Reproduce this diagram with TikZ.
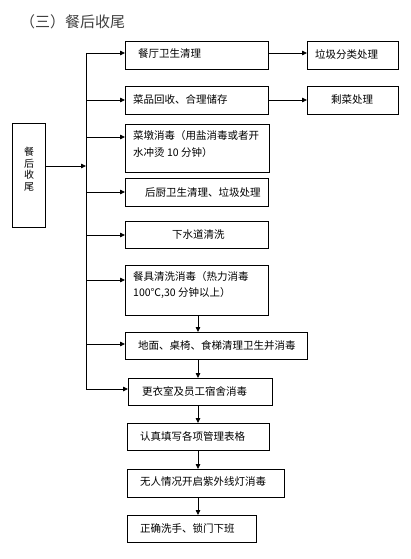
\documentclass[tikz,border=0pt]{standalone}
\usepackage{fontspec}
\setmainfont{Noto Sans CJK SC}
\usetikzlibrary{arrows.meta}
\begin{document}
\begin{tikzpicture}[x=1pt,y=-1pt,
  box/.style={draw=black, line width=0.8pt, inner sep=0pt, anchor=north west},
  txt/.style={anchor=west, inner sep=0pt, font=\fontsize{10.5}{16}\selectfont},
  arr/.style={line width=0.8pt, -{Triangle[length=5pt,width=4.5pt]}},
  ln/.style={line width=0.8pt}]
\useasboundingbox (0,0) rectangle (411,559);
\node[anchor=west, inner sep=0pt, text=black!75, font=\fontsize{15}{18}\selectfont] (title) at (20,22) {（三）餐后收尾};
% left box
\node[box, minimum width=33pt, minimum height=104pt] (L) at (12,123) {};
\node[inner sep=0pt, align=center, font=\fontsize{10}{11.5}\selectfont] (Lt) at (29,169) {餐\\后\\收\\尾};
% boxes
\node[box, minimum width=143pt, minimum height=28pt] (b1) at (125,41) {};
\node[txt] (t1) at (138,54) {餐厅卫生清理};
\node[box, minimum width=91pt, minimum height=28pt] (b2) at (307,41) {};
\node[txt] (t2) at (315,54) {垃圾分类处理};
\node[box, minimum width=143pt, minimum height=28pt] (b3) at (125,86) {};
\node[txt] (t3) at (133,100) {菜品回收、合理储存};
\node[box, minimum width=91pt, minimum height=28pt] (b4) at (307,86) {};
\node[txt] (t4) at (331,100) {剩菜处理};
\node[box, minimum width=144pt, minimum height=48pt] (b5) at (125,124) {};
\node[txt] (t5a) at (133,136) {菜墩消毒（用盐消毒或者开};
\node[txt] (t5b) at (133,153) {水冲烫 10 分钟）};
\node[box, minimum width=143pt, minimum height=28pt] (b6) at (125,178) {};
\node[txt] (t6) at (145,192) {后厨卫生清理、垃圾处理};
\node[box, minimum width=143pt, minimum height=27pt] (b7) at (125,221) {};
\node[txt] (t7) at (172,234.5) {下水道清洗};
\node[box, minimum width=143pt, minimum height=50pt] (b8) at (125,265) {};
\node[txt] (t8a) at (133,277) {餐具清洗消毒（热力消毒};
\node[txt] (t8b) at (133,293) {100℃,30 分钟以上）};
\node[box, minimum width=182pt, minimum height=27pt] (b9) at (125,332) {};
\node[txt] (t9) at (138,345.5) {地面、桌椅、食梯清理卫生并消毒};
\node[box, minimum width=144pt, minimum height=27pt] (b10) at (128,378) {};
\node[txt] (t10) at (142,391) {更衣室及员工宿舍消毒};
\node[box, minimum width=142pt, minimum height=27pt] (b11) at (127,423) {};
\node[txt] (t11) at (140,436) {认真填写各项管理表格};
\node[box, minimum width=157pt, minimum height=28pt] (b12) at (127,469) {};
\node[txt] (t12) at (140,482) {无人情况开启紫外线灯消毒};
\node[box, minimum width=129pt, minimum height=27pt] (b13) at (127,515) {};
\node[txt] (t13) at (140,528) {正确洗手、锁门下班};
% trunk
\coordinate (top) at (86,53);
\coordinate (bot) at (86,389);
\coordinate (mid) at (86,166);
\draw[ln] (top) -- (bot);
\draw[arr] (L.east |- mid) -- (mid);
\draw[arr] (top) -- (b1.west |- top);
\draw[arr] (86,100) -- (b3.west |- 0,100);
\draw[arr] (86,137) -- (b5.west |- 0,137);
\draw[arr] (86,192) -- (b6.west |- 0,192);
\draw[arr] (86,235) -- (b7.west |- 0,235);
\draw[arr] (86,280) -- (b8.west |- 0,280);
\draw[arr] (86,344) -- (b9.west |- 0,344);
\draw[arr] (bot) -- (b10.west |- bot);
% right arrows
\draw[arr] (b1.east |- 0,53) -- (b2.west |- 0,53);
\draw[arr] (b3.east |- 0,100) -- (b4.west |- 0,100);
% vertical chain
\draw[arr] (198,315) -- (198,332);
\draw[arr] (198,359) -- (198,378);
\draw[arr] (198,405) -- (198,423);
\draw[arr] (198,450) -- (198,469);
\draw[arr] (198,497) -- (198,515);
\end{tikzpicture}
\end{document}
